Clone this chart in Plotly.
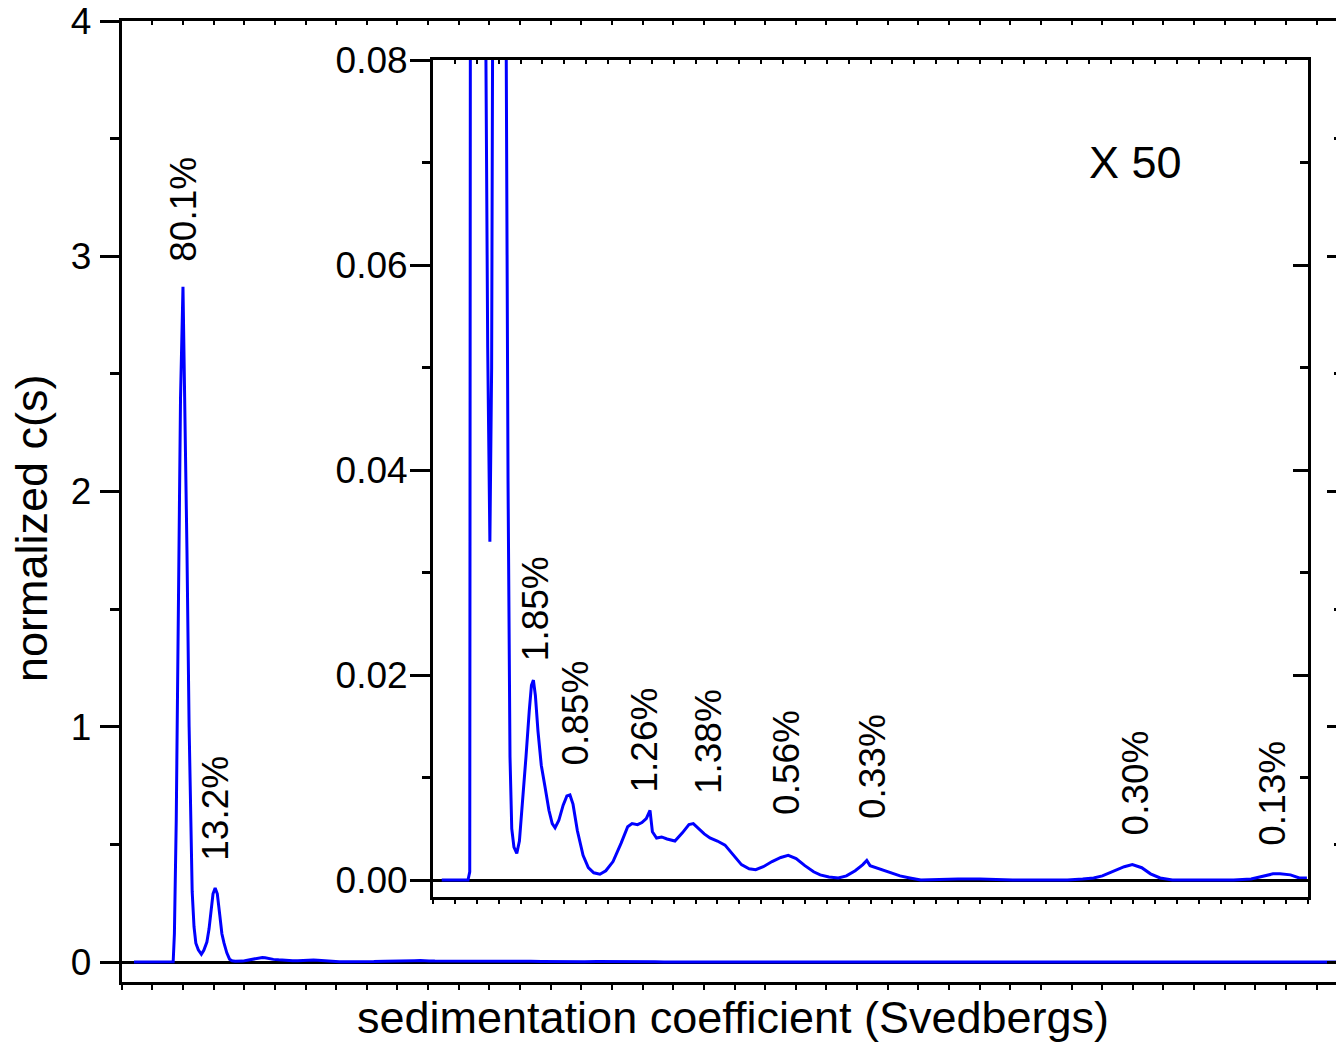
import plotly.graph_objects as go

# ---------------- data ----------------
s_values = [0.4, 1.6, 1.68, 1.72, 1.78, 1.85, 1.92, 2.0, 2.06, 2.13, 2.2, 2.3, 2.36, 2.42, 2.5, 2.6,
            2.68, 2.78, 2.85, 2.92, 2.98, 3.05, 3.12, 3.2, 3.27, 3.34, 3.43, 3.52, 3.6, 3.7, 3.83,
            3.95, 4.1, 4.25, 4.4, 4.5, 4.59, 4.68, 4.8, 4.95, 5.12, 5.3, 5.45, 5.58, 5.75, 5.95,
            6.12, 6.26, 6.4, 6.6, 6.86, 7.1, 7.35, 7.63, 7.9, 8.23, 8.6, 8.9, 9.1, 9.35, 9.55,
            9.75, 9.92, 9.98, 10.03, 10.22, 10.45, 10.7, 11.06, 11.4, 11.7, 11.9, 12.1, 12.4,
            12.66, 13.0, 13.35, 13.7, 14.1, 14.45, 14.75, 15.1, 15.5, 15.9, 16.24, 16.6, 17.0,
            17.4, 17.7, 18.1, 18.53, 18.9, 19.3, 19.65, 19.83, 19.98, 20.4, 20.9, 21.35, 21.8,
            22.3, 24.0, 25.0, 26.5, 29.0, 29.7, 30.2, 30.6, 31.2, 31.6, 31.97, 32.4, 32.8, 33.24,
            33.8, 36.6, 37.4, 38.0, 38.4, 38.72, 39.2, 39.6, 39.95]
c_values = [0.0, 0.0, 0.0008, 0.12, 0.6, 1.5, 2.4, 2.87, 2.4, 1.75, 1.0, 0.3, 0.15, 0.08, 0.052, 0.033,
            0.05, 0.085, 0.14, 0.22, 0.29, 0.315, 0.29, 0.2, 0.12, 0.08, 0.039, 0.012, 0.005, 0.0032, 0.0026,
            0.0038, 0.0075, 0.012, 0.0165, 0.019, 0.0195, 0.018, 0.0145, 0.0112, 0.0091, 0.0068, 0.0055, 0.0051, 0.0058, 0.0073,
            0.0082, 0.0083, 0.0074, 0.0048, 0.0024, 0.0012, 0.0007, 0.00056, 0.0009, 0.0018, 0.0036, 0.0052, 0.0055, 0.0054, 0.0056,
            0.006, 0.0068, 0.0054, 0.0047, 0.0041, 0.0042, 0.004, 0.0038, 0.0046, 0.0054, 0.0055, 0.0051, 0.0045,
            0.0041, 0.0038, 0.0034, 0.0025, 0.0015, 0.0011, 0.001, 0.0013, 0.0018, 0.0022, 0.0024, 0.0021, 0.0014,
            0.0008, 0.0005, 0.0003, 0.0002, 0.0004, 0.0009, 0.0015, 0.0019, 0.0014, 0.0011, 0.0007, 0.0004, 0.0002,
            0.0, 0.0001, 0.0001, 0.0, 0.0, 0.0001, 0.0002, 0.0004, 0.0009, 0.0013, 0.0015, 0.0012, 0.0006, 0.0002,
            0.0, 0.0, 0.0001, 0.0004, 0.0006, 0.0006, 0.0005, 0.0002, 0.0002]

main_labels = ["80.1%", "13.2%"]
main_label_s = [2.03, 3.08]
main_label_c = [2.97, 0.42]

inset_labels = ["1.85%", "0.85%", "1.26%", "1.38%", "0.56%", "0.33%", "0.30%", "0.13%"]
inset_label_s = [4.66, 6.53, 9.65, 12.6, 16.18, 20.07, 32.09, 38.4]
inset_label_c = [0.0212, 0.011, 0.0083, 0.0082, 0.0062, 0.0057, 0.0042, 0.0031]

main_y_ticks = [0, 1, 2, 3, 4]
inset_y_ticks = [0.0, 0.02, 0.04, 0.06, 0.08]

# ---------------- geometry ----------------
W, H = 1336, 1043
def fx(px):
    return px / W
def fy(py):
    return 1 - py / H

FONT = "Liberation Sans, Arial, Helvetica, sans-serif"
BLUE = "#0000ff"
TICKFONT = dict(family=FONT, size=37, color="black")
LABEL_SIZE = 37
TITLE_SIZE = 45

main_xrange = [0, (1336 - 121.7) / 30.64]
main_yrange = [-20 / 235.25, 4]
inset_xrange = [0, 40]
inset_yrange = [-17 / 10250, 0.08]

fig = go.Figure()
fig.add_trace(go.Scatter(x=s_values, y=c_values, mode="lines", line=dict(color=BLUE, width=3),
                         xaxis="x", yaxis="y", showlegend=False, hoverinfo="skip"))
fig.add_trace(go.Scatter(x=s_values, y=c_values, mode="lines", line=dict(color=BLUE, width=3),
                         xaxis="x2", yaxis="y2", showlegend=False, hoverinfo="skip"))
# empty traces to activate mirror axes
fig.add_trace(go.Scatter(x=[None], y=[None], xaxis="x3", yaxis="y3", showlegend=False, hoverinfo="skip"))
fig.add_trace(go.Scatter(x=[None], y=[None], xaxis="x4", yaxis="y4", showlegend=False, hoverinfo="skip"))

common_x = dict(showgrid=False, zeroline=False, showticklabels=False, showline=True,
                linecolor="black", linewidth=3, tickcolor="black", tickwidth=2, dtick=1, tick0=0,
                automargin=False)

fig.update_layout(
    template="none",
    width=W, height=H,
    margin=dict(l=0, r=0, t=0, b=0, autoexpand=False),
    paper_bgcolor="white", plot_bgcolor="white",
    showlegend=False,
    xaxis=dict(domain=[fx(121.7), 1.0], range=main_xrange, anchor="y", ticks="outside", ticklen=5,
               **common_x),
    yaxis=dict(domain=[fy(982), fy(21)], range=main_yrange, anchor="x", showgrid=False,
               automargin=False,
               zeroline=True, zerolinecolor="black", zerolinewidth=3,
               showline=True, linecolor="black", linewidth=3,
               ticks="outside", ticklen=19, tickwidth=2.5, tickcolor="black",
               tickvals=main_y_ticks, ticktext=[str(v) for v in main_y_ticks],
               tickfont=TICKFONT, ticklabelstandoff=1,
               minor=dict(dtick=0.5, tick0=0, ticks="outside", ticklen=9, tickwidth=2.5,
                          tickcolor="black", showgrid=False)),
    xaxis3=dict(overlaying="x", anchor="y3", side="top", range=main_xrange, ticks="inside",
                ticklen=4, **common_x),
    yaxis3=dict(overlaying="y", anchor="x", side="right", range=main_yrange, showgrid=False,
                automargin=False,
                zeroline=False, showline=False, showticklabels=False,
                ticks="inside", ticklen=9, tickwidth=2.5, tickcolor="black", dtick=1, tick0=0,
                minor=dict(dtick=0.5, tick0=0, ticks="inside", ticklen=2, tickwidth=2.5,
                           tickcolor="black", showgrid=False)),
    xaxis2=dict(domain=[fx(433), fx(1308)], range=inset_xrange, anchor="y2", ticks="outside",
                ticklen=4, **common_x),
    yaxis2=dict(domain=[fy(897), fy(60)], range=inset_yrange, anchor="x2", showgrid=False,
                automargin=False,
                zeroline=True, zerolinecolor="black", zerolinewidth=3,
                showline=True, linecolor="black", linewidth=3,
                ticks="outside", ticklen=20, tickwidth=2.5, tickcolor="black",
                tickvals=inset_y_ticks, ticktext=["%.2f" % v for v in inset_y_ticks],
                tickfont=TICKFONT, ticklabelstandoff=-5,
                minor=dict(dtick=0.01, tick0=0, ticks="outside", ticklen=8, tickwidth=2.5,
                           tickcolor="black", showgrid=False)),
    xaxis4=dict(overlaying="x2", anchor="y4", side="top", range=inset_xrange, ticks="inside",
                ticklen=4, **common_x),
    yaxis4=dict(overlaying="y2", anchor="x2", side="right", range=inset_yrange, showgrid=False,
                automargin=False,
                zeroline=False, showline=True, linecolor="black", linewidth=3,
                showticklabels=False, ticks="inside", ticklen=15, tickwidth=2.5,
                tickcolor="black", dtick=0.02, tick0=0,
                minor=dict(dtick=0.01, tick0=0, ticks="inside", ticklen=8, tickwidth=2.5,
                           tickcolor="black", showgrid=False)),
)

annotations = []
for t, xs, yc in zip(main_labels, main_label_s, main_label_c):
    annotations.append(dict(text=t, x=xs, y=yc, xref="x", yref="y", showarrow=False,
                            textangle=-90, xanchor="center", yanchor="bottom",
                            font=dict(family=FONT, size=LABEL_SIZE, color="black")))
for t, xs, yc in zip(inset_labels, inset_label_s, inset_label_c):
    annotations.append(dict(text=t, x=xs, y=yc, xref="x2", yref="y2", showarrow=False,
                            textangle=-90, xanchor="center", yanchor="bottom",
                            font=dict(family=FONT, size=LABEL_SIZE, color="black")))
annotations.append(dict(text="X 50", x=fx(1135), y=fy(162), xref="paper", yref="paper",
                        showarrow=False, xanchor="center", yanchor="middle",
                        font=dict(family=FONT, size=TITLE_SIZE, color="black")))
annotations.append(dict(text="normalized c(s)", x=fx(31), y=fy(528), xref="paper", yref="paper",
                        showarrow=False, textangle=-90, xanchor="center", yanchor="middle",
                        font=dict(family=FONT, size=TITLE_SIZE, color="black")))
annotations.append(dict(text="sedimentation coefficient (Svedbergs)", x=fx(733), y=fy(1017),
                        xref="paper", yref="paper", showarrow=False, xanchor="center",
                        yanchor="middle", font=dict(family=FONT, size=TITLE_SIZE, color="black")))
fig.update_layout(annotations=annotations)

fig.write_html("out.html")
